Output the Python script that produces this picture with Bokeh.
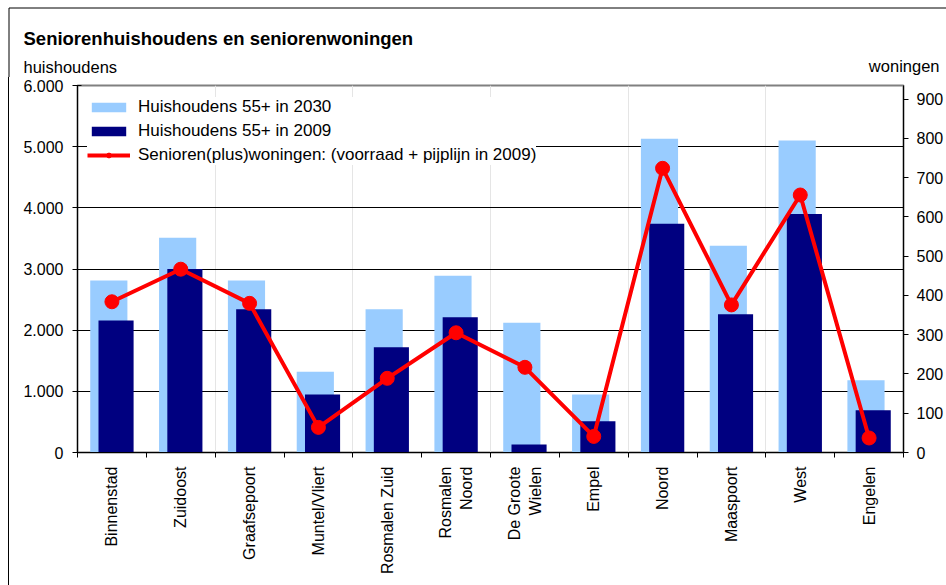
import math
from bokeh.plotting import figure
from bokeh.layouts import column, row
from bokeh.models import (Range1d, LinearAxis, FixedTicker, Legend, LegendItem,
                          ColumnDataSource, Grid, Spacer)
from bokeh.core.properties import value
from bokeh.embed import file_html
from bokeh.resources import INLINE

# ---- data ----
categories = ["Binnenstad", "Zuidoost", "Graafsepoort", "Muntel/Vliert",
              "Rosmalen Zuid", "Rosmalen\nNoord", "De Groote\nWielen", "Empel",
              "Noord", "Maaspoort", "West", "Engelen"]
hh_2030 = [2810, 3510, 2810, 1320, 2340, 2890, 2120, 950, 5130, 3380, 5100, 1180]
hh_2009 = [2160, 3000, 2340, 950, 1720, 2210, 130, 510, 3740, 2260, 3900, 690]
woningen = [384, 467, 380, 64, 189, 305, 217, 41, 724, 376, 656, 37]
left_ticks = [0, 1000, 2000, 3000, 4000, 5000, 6000]
left_labels = ["0", "1.000", "2.000", "3.000", "4.000", "5.000", "6.000"]
right_ticks = [0, 100, 200, 300, 400, 500, 600, 700, 800, 900]
title_text = "Seniorenhuishoudens en seniorenwoningen"
left_title = "huishoudens"
right_title = "woningen"

FONT = "Liberation Sans"
LIGHT = "#99CCFF"
DARK = "#000080"
RED = "#FF0000"

W, H = 946, 585
HEAD_H = 77
STRIP_W = 9

# ---- header (title + axis titles + chart border) ----
head = figure(width=W, height=HEAD_H, x_range=Range1d(0, W), y_range=Range1d(HEAD_H, 0),
              x_axis_location=None, y_axis_location=None, min_border=0,
              output_backend="svg", toolbar_location=None)
head.grid.visible = False
head.outline_line_color = None
head.text(x=[23], y=[38], text=[title_text], text_font=value(FONT),
          text_font_size="18.5px", text_font_style="bold", text_color="#000000",
          text_baseline="alphabetic", text_align="left")
head.text(x=[23], y=[66], text=[left_title], text_font=value(FONT),
          text_font_size="16.5px", text_color="#000000",
          text_baseline="alphabetic", text_align="left")
head.text(x=[939], y=[65], text=[right_title], text_font=value(FONT),
          text_font_size="16.5px", text_color="#000000",
          text_baseline="alphabetic", text_align="right")
head.segment(x0=[8.5, 8.5], y0=[7.5, 7.5], x1=[W, 8.5], y1=[7.5, HEAD_H],
             line_color="#000000", line_width=1)

# ---- left strip carrying the chart border ----
strip = Spacer(width=STRIP_W, height=H - HEAD_H,
               styles={"border-right": "1px solid #000000", "box-sizing": "border-box"})

# ---- main chart ----
n = len(categories)
centers = [i + 0.5 for i in range(n)]
src = ColumnDataSource(dict(
    x=centers,
    x_light=[c - 0.045 for c in centers],
    x_dark=[c + 0.06 for c in centers],
    h30=hh_2030, h09=hh_2009, won=woningen,
))

p = figure(width=W - STRIP_W, height=H - HEAD_H, x_range=Range1d(0, n),
           y_range=Range1d(0, 6000),
           x_axis_location=None, y_axis_location=None,
           min_border_left=68, min_border_right=43, min_border_top=8,
           min_border_bottom=133, output_backend="svg", toolbar_location=None,
           background_fill_color="white", border_fill_color="white")
p.extra_y_ranges = {"won": Range1d(0, 935)}
p.outline_line_color = "#808080"
p.outline_line_width = 2

p.add_layout(Grid(dimension=1, ticker=FixedTicker(ticks=left_ticks[1:-1]),
                  grid_line_color="#000000", grid_line_width=1))

xaxis = LinearAxis(ticker=FixedTicker(ticks=centers, minor_ticks=list(range(n + 1))),
                   major_label_overrides={c: lab for c, lab in zip(centers, categories)},
                   major_label_orientation=math.pi / 2,
                   major_tick_out=0, major_tick_in=0,
                   minor_tick_out=5, minor_tick_in=0,
                   minor_tick_line_color="#000000",
                   major_label_standoff=9,
                   major_label_text_font=FONT, major_label_text_font_size="16px",
                   major_label_text_color="#000000",
                   axis_line_color="#000000")
p.add_layout(xaxis, "below")

yaxis = LinearAxis(ticker=FixedTicker(ticks=left_ticks),
                   major_label_overrides={t: l for t, l in zip(left_ticks, left_labels)},
                   major_tick_out=5, major_tick_in=4,
                   major_label_standoff=9,
                   major_label_text_font=FONT, major_label_text_font_size="16px",
                   major_label_text_color="#000000",
                   axis_line_color="#000000", major_tick_line_color="#000000")
p.add_layout(yaxis, "left")

raxis = LinearAxis(y_range_name="won", ticker=FixedTicker(ticks=right_ticks),
                   major_tick_out=5, major_tick_in=0,
                   major_label_standoff=8,
                   major_label_text_font=FONT, major_label_text_font_size="16px",
                   major_label_text_color="#000000",
                   axis_line_color="#000000", major_tick_line_color="#000000")
p.add_layout(raxis, "right")

r30 = p.vbar(x="x_light", top="h30", width=0.54, source=src,
             fill_color=LIGHT, line_color=None)
r09 = p.vbar(x="x_dark", top="h09", width=0.51, source=src,
             fill_color=DARK, line_color=None)
rl = p.line(x="x", y="won", source=src, y_range_name="won",
            line_color=RED, line_width=4)
rs = p.scatter(x="x", y="won", source=src, y_range_name="won",
               size=14, fill_color=RED, line_color=RED)

legend = Legend(items=[
    LegendItem(label="Huishoudens 55+ in 2030", renderers=[r30]),
    LegendItem(label="Huishoudens 55+ in 2009", renderers=[r09]),
    LegendItem(label="Senioren(plus)woningen: (voorraad + pijplijn in 2009)",
               renderers=[rl, rs]),
], location=(10, 287), glyph_width=43, glyph_height=12, label_height=18,
    spacing=4, padding=9, label_standoff=8, margin=0,
    label_text_font=FONT, label_text_font_size="17px", label_text_color="#000000",
    border_line_color=None, background_fill_color="white", background_fill_alpha=1)
p.add_layout(legend)

layout = column(head, row(strip, p, spacing=0), spacing=0)
open("out.html", "w").write(file_html(layout, INLINE))
